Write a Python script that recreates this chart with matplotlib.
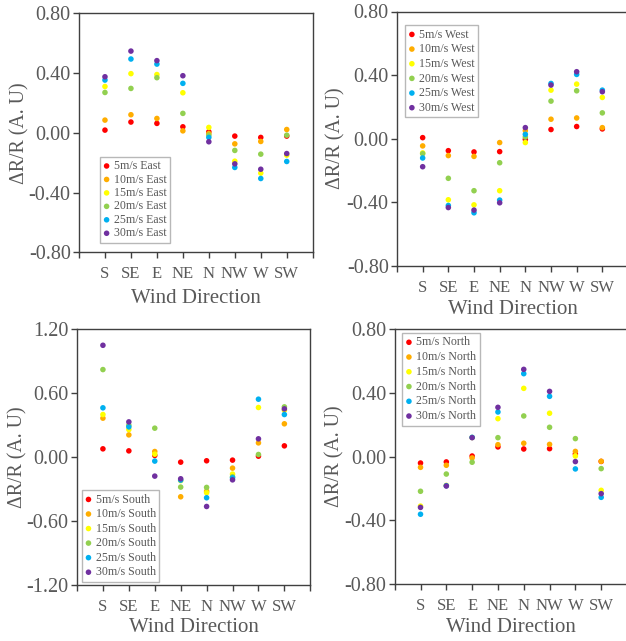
import matplotlib
matplotlib.use("Agg")
import matplotlib.pyplot as plt

plt.rcParams['font.family'] = ['Liberation Serif', 'DejaVu Serif']

# wind directions on the x axis
directions = ['S', 'SE', 'E', 'NE', 'N', 'NW', 'W', 'SW']
speeds = ['5m/s', '10m/s', '15m/s', '20m/s', '25m/s', '30m/s']
COLORS = ['#ff0000', '#ffad00', '#ffff00', '#92d050', '#00b0f0', '#7030a0']

# rows = wind speed 5..30 m/s, columns = directions
east_vals = [
    [0.018, 0.072, 0.063, 0.040, 0.007, -0.022, -0.031, -0.022],
    [0.085, 0.121, 0.096, 0.013, -0.005, -0.074, -0.058, 0.022],
    [0.310, 0.396, 0.390, 0.268, 0.036, -0.190, -0.270, -0.150],
    [0.270, 0.297, 0.369, 0.130, -0.016, -0.118, -0.143, -0.016],
    [0.353, 0.494, 0.460, 0.331, -0.031, -0.232, -0.306, -0.192],
    [0.375, 0.547, 0.483, 0.382, -0.060, -0.208, -0.244, -0.139],
]
west_vals = [
    [0.006, -0.076, -0.084, -0.082, -0.005, 0.057, 0.076, 0.061],
    [-0.046, -0.107, -0.112, -0.025, 0.050, 0.122, 0.130, 0.069],
    [-0.090, -0.385, -0.417, -0.328, -0.025, 0.305, 0.343, 0.259],
    [-0.095, -0.250, -0.328, -0.152, 0.010, 0.236, 0.301, 0.162],
    [-0.122, -0.421, -0.467, -0.387, 0.027, 0.347, 0.404, 0.305],
    [-0.177, -0.434, -0.450, -0.404, 0.069, 0.337, 0.421, 0.295],
]
south_vals = [
    [0.078, 0.059, 0.016, -0.047, -0.034, -0.028, 0.009, 0.106],
    [0.366, 0.209, 0.053, -0.372, -0.320, -0.103, 0.134, 0.313],
    [0.400, 0.259, 0.028, -0.220, -0.334, -0.159, 0.466, 0.440],
    [0.822, 0.300, 0.272, -0.281, -0.284, -0.184, 0.025, 0.472],
    [0.463, 0.284, -0.037, -0.216, -0.381, -0.194, 0.544, 0.400],
    [1.050, 0.331, -0.178, -0.203, -0.463, -0.213, 0.172, 0.453],
]
north_vals = [
    [-0.040, -0.033, 0.004, 0.061, 0.048, 0.050, 0.017, -0.030],
    [-0.067, -0.054, -0.008, 0.075, 0.084, 0.077, 0.033, -0.029],
    [-0.310, -0.180, 0.120, 0.238, 0.428, 0.272, 0.004, -0.211],
    [-0.217, -0.109, -0.035, 0.119, 0.255, 0.184, 0.113, -0.075],
    [-0.361, -0.182, 0.121, 0.280, 0.520, 0.378, -0.077, -0.255],
    [-0.318, -0.184, 0.119, 0.309, 0.547, 0.409, -0.031, -0.232],
]

W, H = 626, 641
TEXT = '#595959'
SPINE = '#404040'

# (name, values, pixel box left/right/top/bottom, ylim, yticks, legend loc, legend anchor, legend row px)
panels = [
    ('East', east_vals, (79, 312.7, 13.3, 252.3), 0.8, [-0.8, -0.4, 0, 0.4, 0.8],
     'lower left', (0.09, 0.039), 13.4),
    ('West', west_vals, (397, 628, 11.5, 265.7), 0.8, [-0.8, -0.4, 0, 0.4, 0.8],
     'upper left', (0.036, 0.947), 14.6),
    ('South', south_vals, (77, 310.3, 329.3, 585), 1.2, [-1.2, -0.6, 0, 0.6, 1.2],
     'lower left', (0.021, 0.012), 14.5),
    ('North', north_vals, (394.7, 627, 329, 584.3), 0.8, [-0.8, -0.4, 0, 0.4, 0.8],
     'upper left', (0.033, 0.985), 14.7),
]

# where the axis titles sit, in pixels (top of x title, right edge of y title)
xlabel_top = {'East': 289, 'West': 300, 'South': 618, 'North': 618}
ylabel_right = {'East': 29, 'West': 345, 'South': 27, 'North': 344}

fig = plt.figure(figsize=(W / 100, H / 100), dpi=100)

for name, vals, (l, r, t, b), ymax, yt, loc, anchor, rowpx in panels:
    ax = fig.add_axes([l / W, 1 - b / H, (r - l) / W, (b - t) / H])
    x = list(range(1, len(directions) + 1))
    for i, sp in enumerate(speeds):
        ax.scatter(x, vals[i], s=16, color=COLORS[i], edgecolors='none',
                   label=f'{sp} {name}', zorder=3)
    ax.set_xlim(0, 9)
    ax.set_ylim(-ymax, ymax)
    ax.set_xticks(range(0, 10))
    ax.set_xticklabels([''] + directions + [''])
    ax.set_yticks(yt)
    ax.set_yticklabels([f'{v:.2f}' for v in yt])
    for sp_name in ['left', 'right', 'top', 'bottom']:
        ax.spines[sp_name].set_color(SPINE)
        ax.spines[sp_name].set_linewidth(1.0)
    ax.tick_params(axis='both', direction='out', length=4, width=1.0,
                   color=SPINE, labelcolor=TEXT)
    ax.tick_params(axis='x', labelsize=12, pad=6)
    ax.tick_params(axis='y', labelsize=14.5, pad=2)

    ax.set_xlabel('Wind Direction', fontsize=15, color=TEXT)
    ax.set_ylabel('ΔR/R (A. U)', fontsize=14.3, color=TEXT)
    ax.xaxis.set_label_coords(0.5, 1 - (xlabel_top[name] - t) / (b - t))
    ax.yaxis.set_label_coords((ylabel_right[name] - l) / (r - l), 0.5)

    fs = 8.6
    leg = ax.legend(loc=loc, bbox_to_anchor=anchor, borderaxespad=0,
                    fontsize=fs, frameon=True, fancybox=False,
                    handlelength=0.5, handletextpad=0.35, borderpad=0.3,
                    labelspacing=(rowpx / (fs * 100 / 72)) - 1.0,
                    markerscale=1.0, scatterpoints=1)
    leg.get_frame().set_edgecolor('#a6a6a6')
    leg.get_frame().set_linewidth(1.0)
    for txt in leg.get_texts():
        txt.set_color(TEXT)

fig.savefig('out.png', dpi=100)
